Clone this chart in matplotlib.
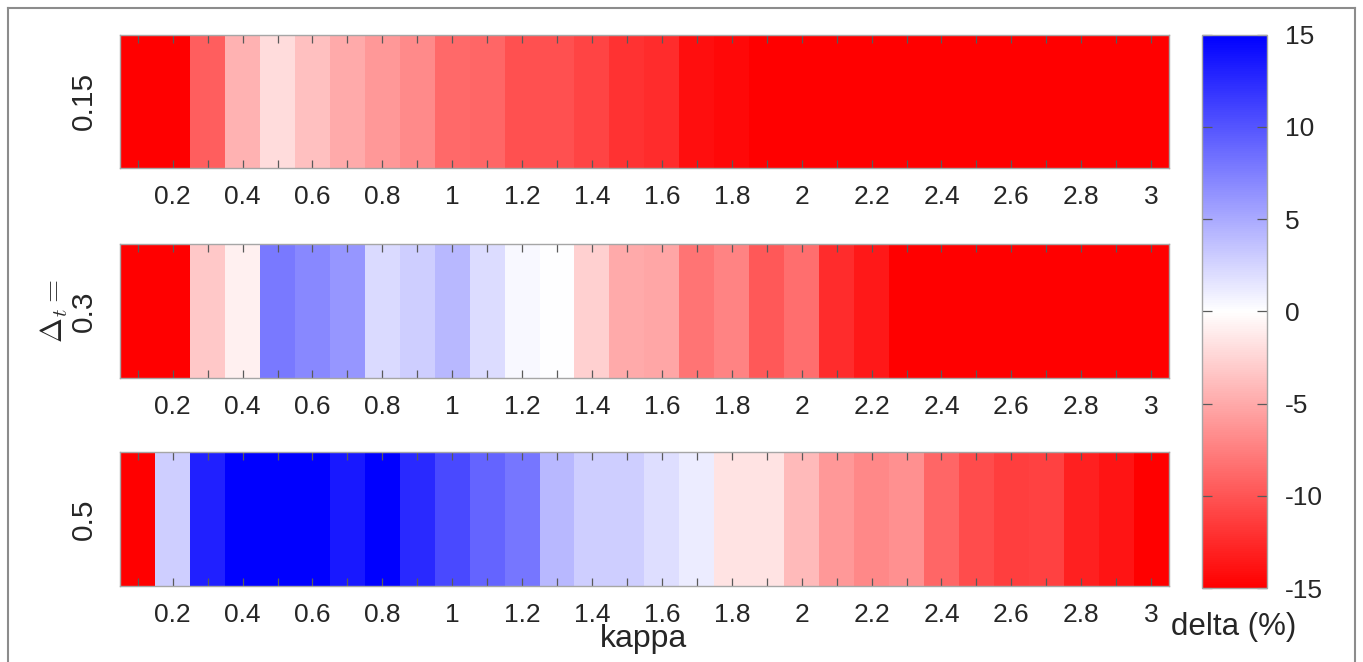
import numpy as np
import matplotlib
matplotlib.use("Agg")
import matplotlib.pyplot as plt
from matplotlib.colors import LinearSegmentedColormap
from matplotlib.lines import Line2D

# ---------------- data ----------------
kappa = [round(0.1 * i, 1) for i in range(1, 31)]
tick_labels = ["", "0.2", "", "0.4", "", "0.6", "", "0.8", "", "1",
               "", "1.2", "", "1.4", "", "1.6", "", "1.8", "", "2",
               "", "2.2", "", "2.4", "", "2.6", "", "2.8", "", "3"]
row_labels = ["0.15", "$\\Delta_t =$\n0.3", "0.5"]

delta_015 = [-15, -15, -9.4, -4.5, -2.0, -3.7, -5.0, -6.0, -6.8, -8.7,
             -9.0, -10.2, -10.2, -11.0, -12.0, -12.4, -14.1, -14.5, -15, -15,
             -15, -15, -15, -15, -15, -15, -15, -15, -15, -15]
delta_03 = [-15, -15, -3.2, -0.9, 7.8, 7.0, 6.2, 2.2, 2.9, 4.2,
            2.0, 0.4, 0.1, -2.8, -5.0, -5.2, -8.1, -7.2, -9.8, -8.5,
            -12.4, -13.5, -15, -15, -15, -15, -15, -15, -15, -15]
delta_05 = [-15, 2.9, 13.1, 15, 15, 15, 13.5, 15, 12.5, 10.6,
            9.1, 8.0, 4.2, 2.9, 2.9, 1.9, 1.1, -1.6, -1.6, -4.1,
            -6.0, -7.0, -6.5, -9.0, -10.5, -11.3, -11.1, -13.1, -13.8, -15]
rows = [delta_015, delta_03, delta_05]
cbar_ticks = [-15, -10, -5, 0, 5, 10, 15]

# ---------------- style ----------------
plt.rcParams['font.family'] = ['Liberation Sans', 'DejaVu Sans']
plt.rcParams['mathtext.fontset'] = 'cm'
plt.rcParams['axes.unicode_minus'] = False
TXT = '#262626'
EDGE = '#a6a6a6'

W, H = 1363, 662
fig = plt.figure(figsize=(W / 100, H / 100), dpi=100)

cmap = LinearSegmentedColormap.from_list('rwb', ['#ff0000', '#ffffff', '#0000ff'], N=256)

left = 120.3 / W
width = (1168.6 - 120.3) / W
row_px = [(34.6, 168.0), (244.0, 378.0), (452.0, 586.0)]

step = kappa[1] - kappa[0]
extent = [kappa[0] - step / 2, kappa[-1] + step / 2, 0, 1]

im = None
for i, (vals, (top, bot)) in enumerate(zip(rows, row_px)):
    ax = fig.add_axes([left, 1 - bot / H, width, (bot - top) / H])
    im = ax.imshow(np.array(vals)[None, :], cmap=cmap, vmin=-15, vmax=15,
                   aspect='auto', extent=extent, interpolation='nearest')
    ax.set_xlim(extent[0], extent[1])
    ax.set_ylim(0, 1)
    ax.set_xticks(kappa)
    ax.set_xticklabels(tick_labels)
    ax.set_yticks([])
    ax.tick_params(axis='x', direction='in', top=True, bottom=True,
                   length=6, width=0.9, color='#5a5a5a',
                   labelsize=19, labelcolor=TXT, pad=12)
    for s in ax.spines.values():
        s.set_color(EDGE)
        s.set_linewidth(1.0)
    ax.set_ylabel(row_labels[i], fontsize=21.5, color=TXT, labelpad=16,
                  linespacing=1.0)

# colorbar
cax = fig.add_axes([1202 / W, 1 - 588 / H, (1267 - 1202) / W, (588 - 34.6) / H])
cb = fig.colorbar(im, cax=cax)
cb.set_ticks(cbar_ticks)
cb.set_ticklabels([str(t) for t in cbar_ticks])
cax.tick_params(direction='in', left=True, right=True, labelright=True,
                labelleft=False, length=7, width=0.9, color='#5a5a5a',
                labelsize=19, labelcolor=TXT, pad=13)
cb.outline.set_edgecolor(EDGE)
cb.outline.set_linewidth(1.0)

fig.text(1234 / W, 1 - 627 / H, "delta (%)", fontsize=22.5, color=TXT,
         ha='center', va='center')
fig.text(644 / W, 1 - 647 / H, "kappa", fontsize=23, color=TXT,
         ha='center', va='baseline')

# outer frame
fc = '#8c8c8c'
xl, xr, yt = 8 / W, 1355 / W, 1 - 8 / H
fig.add_artist(Line2D([xl, xl], [-0.01, yt], transform=fig.transFigure, color=fc, lw=1.5))
fig.add_artist(Line2D([xl, xr], [yt, yt], transform=fig.transFigure, color=fc, lw=1.5))
fig.add_artist(Line2D([xr, xr], [-0.01, yt], transform=fig.transFigure, color=fc, lw=1.5))

fig.savefig("out.png", dpi=100)
